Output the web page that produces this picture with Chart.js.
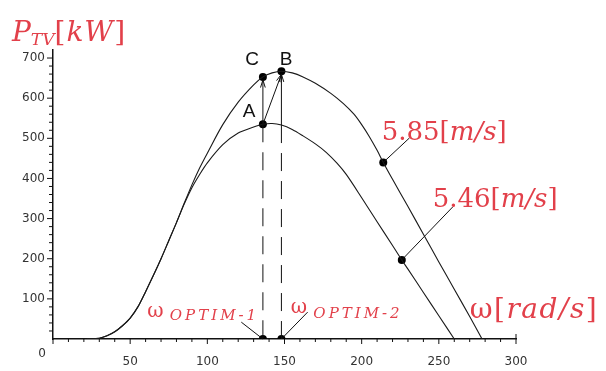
<!DOCTYPE html>
<html>
<head>
<meta charset="utf-8">
<script src="https://cdn.jsdelivr.net/npm/chart.js@4.4.0/dist/chart.umd.min.js"></script>
<style>
  html, body { margin: 0; padding: 0; background: #fff; }
  #wrap { width: 606px; height: 371px; }
</style>
</head>
<body>
<div id="wrap"><canvas id="powerChart"></canvas></div>
<script>
// rotor speed [rad/s] and power [kW]
const omegaHigh = [22, 30, 35, 40, 45, 50, 55, 60, 65, 70, 75, 80, 85, 90, 95, 100, 110, 120, 130, 136, 142, 148, 155, 162, 170, 180, 188, 195, 200, 205, 210, 214, 220, 230, 240, 250, 260, 270, 278];
const powerHigh = [0, 2, 8, 18, 33, 52, 80, 118, 158, 200, 245, 290, 338, 384, 426, 463, 534, 590, 633, 653, 663, 667, 663, 653, 637, 612, 587, 560, 534, 504, 470, 440, 398, 330, 261, 192, 124, 56, 0];
const omegaLow = [22, 30, 35, 40, 45, 50, 55, 60, 65, 70, 75, 80, 85, 90, 95, 100, 110, 120, 130, 136, 142, 148, 155, 162, 170, 177, 184, 190, 200, 210, 220, 226, 230, 240, 250, 260];
const powerLow = [0, 2, 8, 18, 33, 52, 80, 118, 158, 200, 245, 290, 336, 377, 410, 439, 484, 513, 528, 535, 537, 533, 522, 506, 486, 465, 438, 410, 352, 292, 233, 197, 174, 116, 58, 0];

// marked points: C, B, A, two label points, two optimum speeds on the axis
const markOmega = [136, 148, 136, 214, 226, 136, 148];
const markPower = [653, 667, 535, 440, 197, 0, 0];

const xTicks = [0, 50, 100, 150, 200, 250, 300];
const yTicks = [0, 100, 200, 300, 400, 500, 600, 700];

const RED = '#e2404a';
const SERIF = "'DejaVu Serif', 'Liberation Serif', serif";

function zip(xs, ys) {
  return xs.map(function(x, i) { return { x: x, y: ys[i] }; });
}

function drawRich(ctx, x, y, parts) {
  let cx = x;
  parts.forEach(function(p) {
    ctx.font = p.font;
    ctx.letterSpacing = p.ls || '0px';
    ctx.fillText(p.t, cx, y + (p.dy || 0));
    cx += ctx.measureText(p.t).width;
  });
  ctx.letterSpacing = '0px';
}

function arrow(ctx, x1, y1, x2, y2) {
  const a = Math.atan2(y2 - y1, x2 - x1);
  const h = 8;
  ctx.beginPath();
  ctx.moveTo(x1, y1);
  ctx.lineTo(x2, y2);
  ctx.moveTo(x2 - h * Math.cos(a - 0.3), y2 - h * Math.sin(a - 0.3));
  ctx.lineTo(x2, y2);
  ctx.lineTo(x2 - h * Math.cos(a + 0.3), y2 - h * Math.sin(a + 0.3));
  ctx.stroke();
}

const overlay = {
  id: 'overlay',
  afterDraw: function(chart) {
    const ctx = chart.ctx;
    const xs = chart.scales.x;
    const ys = chart.scales.y;
    const X = function(v) { return xs.getPixelForValue(v); };
    const Y = function(v) { return ys.getPixelForValue(v); };
    const x0 = X(0), y0 = Y(0);

    ctx.save();
    ctx.strokeStyle = '#111';
    ctx.lineWidth = 1;

    // minor / major ticks
    for (let v = 0; v <= 300; v += 10) {
      const major = v % 50 === 0;
      ctx.beginPath();
      ctx.moveTo(X(v), y0 - (v === 300 ? 5 : 0));
      ctx.lineTo(X(v), y0 + (major ? 5 : 3));
      ctx.stroke();
    }
    for (let v = 20; v <= 700; v += 20) {
      const major = v % 100 === 0;
      ctx.beginPath();
      ctx.moveTo(x0, Y(v));
      ctx.lineTo(x0 - (major ? 6 : 4), Y(v));
      ctx.stroke();
    }

    // dashed optimum lines
    ctx.setLineDash([18, 10]);
    ctx.beginPath();
    ctx.moveTo(X(markOmega[2]), Y(markPower[2]));
    ctx.lineTo(X(markOmega[5]), y0);
    ctx.moveTo(X(markOmega[1]), Y(533));
    ctx.lineTo(X(markOmega[6]), y0);
    ctx.stroke();
    ctx.setLineDash([]);

    // arrows A -> C, A -> B, lower curve -> B
    arrow(ctx, X(markOmega[2]), Y(markPower[2]), X(markOmega[0]), Y(markPower[0]) + 3);
    arrow(ctx, X(markOmega[2]), Y(markPower[2]), X(markOmega[1]), Y(markPower[1]) + 3);
    arrow(ctx, X(markOmega[1]), Y(533), X(markOmega[1]), Y(markPower[1]) + 3);

    // leader lines
    ctx.beginPath();
    ctx.moveTo(X(markOmega[3]), Y(markPower[3]));
    ctx.lineTo(X(231), Y(501));
    ctx.moveTo(X(markOmega[4]), Y(markPower[4]));
    ctx.lineTo(X(259), Y(329));
    ctx.moveTo(X(markOmega[5]), y0);
    ctx.lineTo(X(122), Y(42));
    ctx.moveTo(X(markOmega[6]), y0);
    ctx.lineTo(X(165), Y(67));
    ctx.stroke();

    // point letters
    ctx.fillStyle = '#111';
    ctx.font = "19px 'Liberation Sans', Arial, sans-serif";
    ctx.textAlign = 'center';
    ctx.textBaseline = 'middle';
    ctx.fillText('C', X(129), Y(696));
    ctx.fillText('B', X(151), Y(696));
    ctx.fillText('A', X(127), Y(565));

    // origin label
    ctx.fillStyle = '#333';
    ctx.font = "12px 'DejaVu Sans', sans-serif";
    ctx.fillText('0', x0 - 11, y0 + 15);

    // red texts
    ctx.textAlign = 'left';
    ctx.textBaseline = 'alphabetic';
    ctx.fillStyle = RED;
    const up = function(s) { return s + 'px ' + SERIF; };
    const it = function(s) { return 'italic ' + s + 'px ' + SERIF; };

    drawRich(ctx, X(213), Y(496), [
      { t: '5.85', font: up(26) }, { t: '[', font: up(26) },
      { t: 'm/s', font: it(26) }, { t: ']', font: up(26) }
    ]);
    drawRich(ctx, X(246), Y(329), [
      { t: '5.46', font: up(26) }, { t: '[', font: up(26) },
      { t: 'm/s', font: it(26) }, { t: ']', font: up(26) }
    ]);
    drawRich(ctx, X(270), Y(52), [
      { t: 'ω', font: up(28), ls: '1.5px' }, { t: '[', font: up(28), ls: '1.5px' },
      { t: 'rad/s', font: it(28), ls: '1.5px' }, { t: ']', font: up(28) }
    ]);
    drawRich(ctx, X(61), Y(55), [
      { t: 'ω ', font: up(20) }, { t: 'OPTIM-1', font: it(15), dy: 3, ls: '3px' }
    ]);
    drawRich(ctx, X(154), Y(65), [
      { t: 'ω ', font: up(20) }, { t: 'OPTIM-2', font: it(15), dy: 5, ls: '3px' }
    ]);

    // axis title
    drawRich(ctx, 12, 41, [
      { t: 'P', font: it(28) }, { t: 'TV', font: it(17), dy: 4 },
      { t: '[', font: up(28), ls: '1px' }, { t: 'kW', font: it(28), ls: '1px' }, { t: ']', font: up(28) }
    ]);
    ctx.restore();
  }
};

const ctx = document.getElementById('powerChart');
new Chart(ctx, {
  type: 'scatter',
  data: {
    datasets: [
      {
        label: '5.85 m/s',
        data: zip(omegaHigh, powerHigh),
        showLine: true,
        borderColor: '#1a1a1a',
        borderWidth: 1.1,
        pointRadius: 0,
        tension: 0.3
      },
      {
        label: '5.46 m/s',
        data: zip(omegaLow, powerLow),
        showLine: true,
        borderColor: '#1a1a1a',
        borderWidth: 1.1,
        pointRadius: 0,
        tension: 0.3
      },
      {
        label: 'points',
        data: zip(markOmega, markPower),
        showLine: false,
        pointRadius: 4,
        backgroundColor: '#000',
        borderWidth: 0
      }
    ]
  },
  options: {
    responsive: true,
    maintainAspectRatio: false,
    animation: false,
    layout: {
      padding: { left: 0, top: 50, right: 90, bottom: 0 }
    },
    plugins: {
      legend: { display: false },
      tooltip: { enabled: false }
    },
    scales: {
      x: {
        type: 'linear',
        min: 0,
        max: 300,
        afterBuildTicks: function(scale) {
          scale.ticks = xTicks.map(function(v) { return { value: v }; });
        },
        afterFit: function(scale) { scale.height = 32; },
        grid: { display: false, drawTicks: false, tickLength: 0 },
        border: { display: true, color: '#111', width: 1.5 },
        ticks: {
          padding: 16,
          color: '#333',
          font: { size: 12, family: "'DejaVu Sans', sans-serif" },
          maxRotation: 0,
          callback: function(v) { return v === 0 ? '' : v; }
        }
      },
      y: {
        type: 'linear',
        min: 0,
        max: 720,
        afterBuildTicks: function(scale) {
          scale.ticks = yTicks.map(function(v) { return { value: v }; });
        },
        afterFit: function(scale) { scale.width = 53; },
        grid: { display: false, drawTicks: false, tickLength: 0 },
        border: { display: true, color: '#111', width: 1.5 },
        ticks: {
          padding: 8,
          color: '#333',
          font: { size: 12, family: "'DejaVu Sans', sans-serif" },
          callback: function(v) { return v === 0 ? '' : v; }
        }
      }
    }
  },
  plugins: [overlay]
});
</script>
</body>
</html>
